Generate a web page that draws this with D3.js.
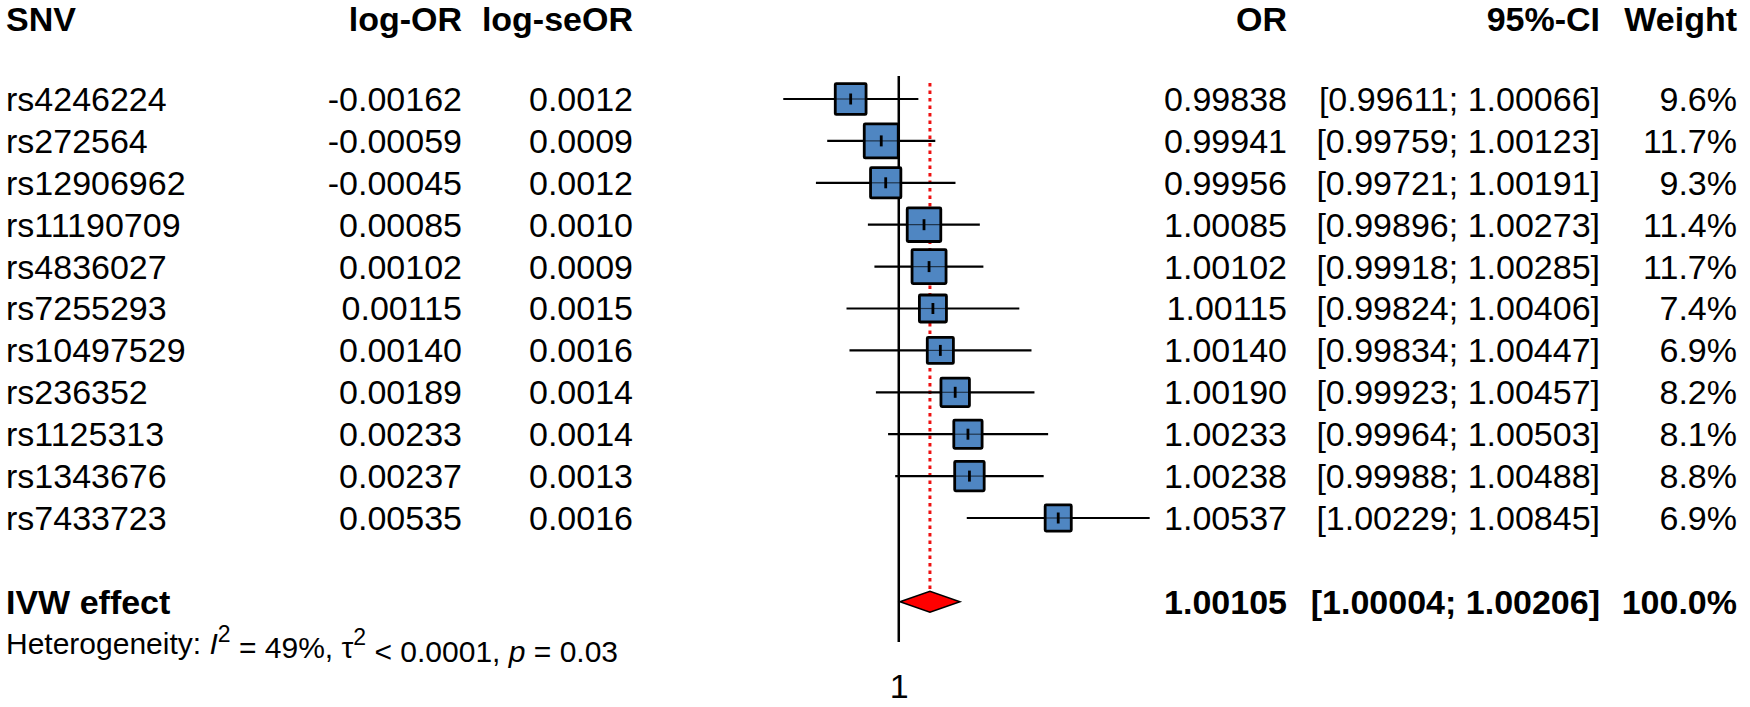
<!DOCTYPE html>
<html>
<head>
<meta charset="utf-8">
<script src="https://cdn.jsdelivr.net/npm/d3@7"></script>
<style>
  body { margin: 0; background: #fff; }
  text { font-family: "Liberation Sans", Arial, sans-serif; fill: #000; }
</style>
</head>
<body>
<div id="forest"></div>
<script>
let snv = ["rs4246224", "rs272564", "rs12906962", "rs11190709", "rs4836027", "rs7255293",
  "rs10497529", "rs236352", "rs1125313", "rs1343676", "rs7433723"];
let logOR = [-0.00162, -0.00059, -0.00045, 0.00085, 0.00102, 0.00115, 0.0014, 0.00189, 0.00233, 0.00237, 0.00535];
let logSeOR = [0.0012, 0.0009, 0.0012, 0.001, 0.0009, 0.0015, 0.0016, 0.0014, 0.0014, 0.0013, 0.0016];
let orVal = [0.99838, 0.99941, 0.99956, 1.00085, 1.00102, 1.00115, 1.0014, 1.0019, 1.00233, 1.00238, 1.00537];
let ciLow = [0.99611, 0.99759, 0.99721, 0.99896, 0.99918, 0.99824, 0.99834, 0.99923, 0.99964, 0.99988, 1.00229];
let ciHigh = [1.00066, 1.00123, 1.00191, 1.00273, 1.00285, 1.00406, 1.00447, 1.00457, 1.00503, 1.00488, 1.00845];
let weight = [9.6, 11.7, 9.3, 11.4, 11.7, 7.4, 6.9, 8.2, 8.1, 8.8, 6.9];

// pooled IVW estimate
let pooled = { label: "IVW effect", or: 1.00105, low: 1.00004, high: 1.00206, weight: 100.0 };
let headers = ["SNV", "log-OR", "log-seOR", "OR", "95%-CI", "Weight"];
let tickValues = [1];

let width = 1750, height = 707;

let svg = d3.select("#forest").append("svg")
  .attr("width", width)
  .attr("height", height);

let x = d3.scaleLinear().domain([0.996, 1.009]).range([780, 1166]);
let y = d3.scaleLinear().domain([0, 10]).range([99, 518]);
let boxSize = d3.scaleSqrt().domain([0, 11.7]).range([0, 34]);

// plain hyphen for negatives, like R output
let f5 = (v) => d3.format(".5f")(v).replace("\u2212", "-");
let f4 = d3.format(".4f"), f1 = d3.format(".1f");
let fontSize = 34;

// column right edges (first is left edge)
let colX = [6, 462, 633, 1287, 1600, 1737];

// header
headers.forEach((h, i) => {
  svg.append("text")
    .attr("x", colX[i])
    .attr("y", y(-1.9))
    .attr("dy", "0.35em")
    .attr("text-anchor", i == 0 ? "start" : "end")
    .style("font-size", fontSize + "px")
    .style("font-weight", "bold")
    .text(h);
});

// study rows text
snv.forEach((s, i) => {
  let cells = [s, f5(logOR[i]), f4(logSeOR[i]), f5(orVal[i]),
    "[" + f5(ciLow[i]) + "; " + f5(ciHigh[i]) + "]", f1(weight[i]) + "%"];
  cells.forEach((c, j) => {
    svg.append("text")
      .attr("x", colX[j])
      .attr("y", y(i))
      .attr("dy", "0.35em")
      .attr("text-anchor", j == 0 ? "start" : "end")
      .style("font-size", fontSize + "px")
      .text(c);
  });
});

// pooled row text
let pooledCells = [pooled.label, "", "", f5(pooled.or),
  "[" + f5(pooled.low) + "; " + f5(pooled.high) + "]", f1(pooled.weight) + "%"];
pooledCells.forEach((c, j) => {
  if (c == "") return;
  svg.append("text")
    .attr("x", colX[j])
    .attr("y", y(12))
    .attr("dy", "0.35em")
    .attr("text-anchor", j == 0 ? "start" : "end")
    .style("font-size", fontSize + "px")
    .style("font-weight", "bold")
    .text(c);
});

// heterogeneity line
let het = svg.append("text")
  .attr("x", 6)
  .attr("y", y(13))
  .attr("dy", "0.35em")
  .style("font-size", "30px");
het.append("tspan").text("Heterogeneity: ");
het.append("tspan").style("font-style", "italic").text("I");
het.append("tspan").attr("dy", "-0.55em").style("font-size", "23px").text("2");
het.append("tspan").attr("dy", "0.55em").text(" = 49%, \u03c4");
het.append("tspan").attr("dy", "-0.55em").style("font-size", "23px").text("2");
het.append("tspan").attr("dy", "0.55em").text(" < 0.0001, ");
het.append("tspan").style("font-style", "italic").text("p");
het.append("tspan").text(" = 0.03");

// null line at OR = 1
svg.append("line")
  .attr("x1", x(1)).attr("x2", x(1))
  .attr("y1", y(-0.55)).attr("y2", y(12.96))
  .attr("stroke", "black")
  .attr("stroke-width", 2.5);

// pooled estimate dotted line
svg.append("line")
  .attr("x1", x(pooled.or)).attr("x2", x(pooled.or))
  .attr("y1", y(-0.38)).attr("y2", y(12) - 10)
  .attr("stroke", "#ee1111")
  .attr("stroke-width", 3)
  .attr("stroke-dasharray", "3.5,4");

// confidence interval whiskers
snv.forEach((s, i) => {
  svg.append("line")
    .attr("x1", x(ciLow[i])).attr("x2", x(ciHigh[i]))
    .attr("y1", y(i)).attr("y2", y(i))
    .attr("stroke", "black")
    .attr("stroke-width", 2.2);
});

// weighted squares
snv.forEach((s, i) => {
  let b = boxSize(weight[i]);
  svg.append("rect")
    .attr("x", x(orVal[i]) - b / 2)
    .attr("y", y(i) - b / 2)
    .attr("width", b)
    .attr("height", b)
    .attr("fill", "#4f86c2")
    .attr("stroke", "black")
    .attr("stroke-width", 2.8)
    .attr("rx", 1);
  // line through box and tick at estimate
  svg.append("line")
    .attr("x1", x(orVal[i]) - b / 2).attr("x2", x(orVal[i]) + b / 2)
    .attr("y1", y(i)).attr("y2", y(i))
    .attr("stroke", "black")
    .attr("stroke-width", 1.2)
    .attr("opacity", 0.6);
  svg.append("line")
    .attr("x1", x(orVal[i])).attr("x2", x(orVal[i]))
    .attr("y1", y(i) - 5.5).attr("y2", y(i) + 5.5)
    .attr("stroke", "black")
    .attr("stroke-width", 2.8);
});

// pooled diamond
let dh = 10.5;
let diamond = [[x(pooled.low), y(12)], [x(pooled.or), y(12) - dh],
  [x(pooled.high), y(12)], [x(pooled.or), y(12) + dh]];
svg.append("path")
  .datum(diamond)
  .attr("d", d3.line().curve(d3.curveLinearClosed))
  .attr("fill", "#ff0000")
  .attr("stroke", "black")
  .attr("stroke-width", 1.5);

// x axis label
let axis = svg.append("g")
  .attr("transform", "translate(0," + (y(12.96)) + ")")
  .call(d3.axisBottom(x).tickValues(tickValues).tickFormat(d3.format("d")).tickSize(0).tickPadding(32));
axis.select(".domain").remove();
axis.selectAll("text")
  .style("font-size", fontSize + "px")
  .style("font-family", "'Liberation Sans', Arial, sans-serif");
</script>
</body>
</html>
